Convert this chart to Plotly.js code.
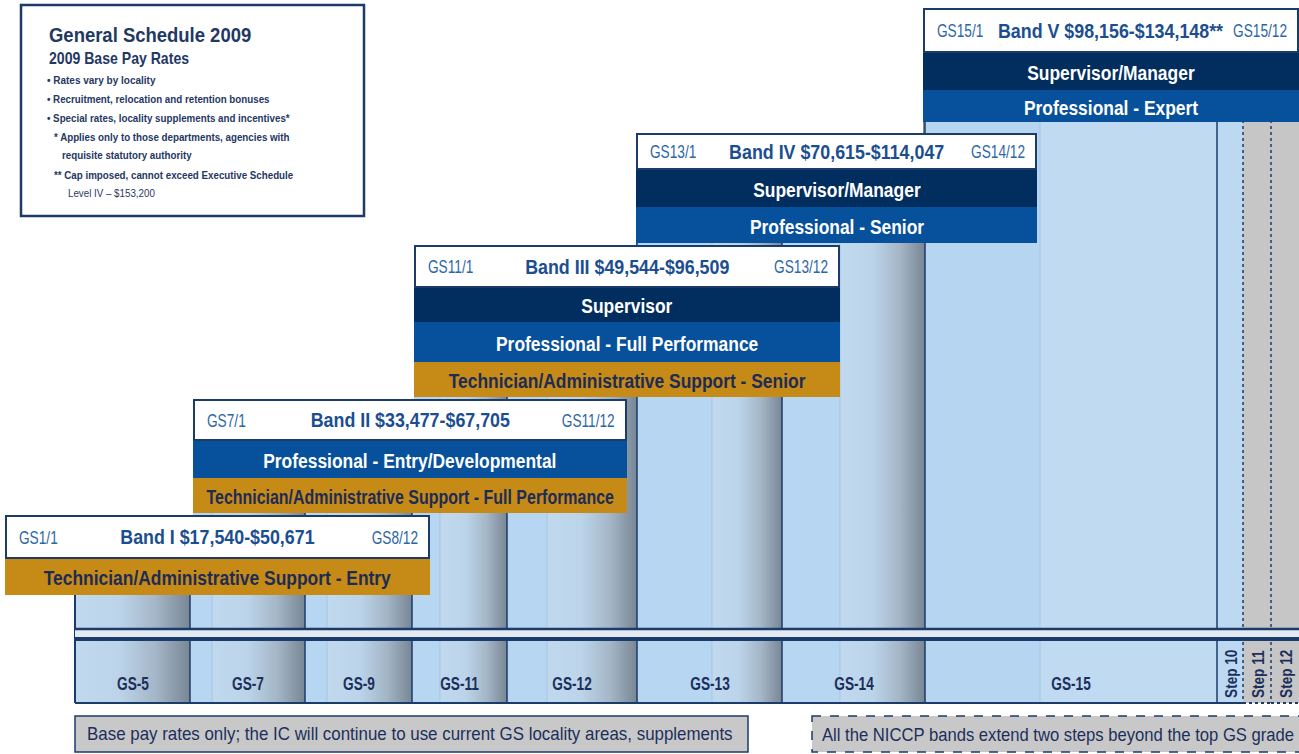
<!DOCTYPE html>
<html><head><meta charset="utf-8">
<script src="https://cdn.plot.ly/plotly-3.0.1.min.js"></script>
<style>html,body{margin:0;padding:0;background:#fff}#chart{width:1299px;height:754px}</style>
</head><body><div id="chart"></div>
<script>
// ---------------- DATA ----------------
const bandNames = ['Band I', 'Band II', 'Band III', 'Band IV', 'Band V'];
const bandMin = ['$17,540', '$33,477', '$49,544', '$70,615', '$98,156'];
const bandMax = ['$50,671', '$67,705', '$96,509', '$114,047', '$134,148**'];
const bandStartGrade = ['GS1/1', 'GS7/1', 'GS11/1', 'GS13/1', 'GS15/1'];
const bandEndGrade = ['GS8/12', 'GS11/12', 'GS13/12', 'GS14/12', 'GS15/12'];
const bandRoles = [
  ['Technician/Administrative Support - Entry'],
  ['Professional - Entry/Developmental', 'Technician/Administrative Support - Full Performance'],
  ['Supervisor', 'Professional - Full Performance', 'Technician/Administrative Support - Senior'],
  ['Supervisor/Manager', 'Professional - Senior'],
  ['Supervisor/Manager', 'Professional - Expert']
];
const bandRoleKinds = [
  ['tech'], ['prof', 'tech'], ['sup', 'prof', 'tech'], ['sup', 'prof'], ['sup', 'prof']
];
const gradeLabels = ['GS-5', 'GS-7', 'GS-9', 'GS-11', 'GS-12', 'GS-13', 'GS-14', 'GS-15', 'Step 10', 'Step 11', 'Step 12'];
const gradeIsExtension = [false, false, false, false, false, false, false, false, false, true, true];
const legendLines = [
  'General Schedule 2009',
  '2009 Base Pay Rates',
  '• Rates vary by locality',
  '• Recruitment, relocation and retention bonuses',
  '• Special rates, locality supplements and incentives*',
  '* Applies only to those departments, agencies with',
  'requisite statutory authority',
  '** Cap imposed, cannot exceed Executive Schedule',
  'Level IV – $153,200'
];
const footLeft = 'Base pay rates only; the IC will continue to use current GS locality areas, supplements';
const footRight = 'All the NICCP bands extend two steps beyond the top GS grade';

// ---------------- GEOMETRY / STYLE ----------------
const FONT = '"Liberation Sans", Arial, sans-serif';
const C = {
  navy: '#012d5f', blue: '#07509b', gold: '#c68a17', border: '#1b3b6b',
  title: '#1b4e90', grade: '#2d66a7', dark: '#1c2f5c', gray: '#c8c8c8'
};
const roleFill = {sup: C.navy, prof: C.blue, tech: C.gold};
const roleText = {sup: '#ffffff', prof: '#ffffff', tech: '#1d2c56'};
const G = {
  bands: [
    {x0: 5,   x1: 430,  y0: 515, head: 43, rows: [37]},
    {x0: 193, x1: 627,  y0: 399, head: 41, rows: [38, 35]},
    {x0: 414, x1: 840,  y0: 245, head: 42, rows: [35, 40, 35]},
    {x0: 636, x1: 1037, y0: 133, head: 36, rows: [38, 36]},
    {x0: 923, x1: 1299, y0: 8,   head: 44, rows: [38, 32]}
  ],
  colEdges: [75, 190, 305, 412, 507, 637, 782, 925, 1217, 1243, 1271, 1299],
  colFlat:  [0, 22, 22, 28, 40, 75, 58, 115, 0, 0, 0],
  colShade: [true, true, true, true, true, true, true, false, false, false, false],
  colTop: 0, sepTop: 628, sepBot: 641, colBottom: 703, labelY: 684,
  legend: {x0: 21, x1: 364, y0: 5, y1: 216},
  // x, y, size, bold, squeeze
  legendPos: [[47, 34, 21, true, 0.88], [47, 58, 16, true, 0.88], [45, 80, 11.5, true, 0.87], [45, 99, 11.5, true, 0.85],
              [45, 118, 11.5, true, 0.85], [52, 137, 11.5, true, 0.85], [60, 155, 11.5, true, 0.85],
              [52, 175, 11.5, true, 0.85], [66, 193, 11.5, false, 0.85]],
  footL: {x0: 75, x1: 748, y0: 716, y1: 752},
  footR: {x0: 812, x1: 1299, y0: 716, y1: 752}
};
const flatColor = '#b7d6f1';
const cylStops = [[0, '#c1d9ee'], [0.38, '#bcd4e9'], [0.7, '#a4b6c7'], [0.9, '#8796a5'], [1, '#788694']];
const plainColors = ['#bfdaf1', '#bcd9f1', '#c6c6c6'];

const traces = [], shapes = [], annotations = [], squeezes = [];
const txt = (x, y, text, size, color, squeeze, opts) => {
  const o = Object.assign({
    x, y, xref: 'x', yref: 'y', text, showarrow: false,
    xanchor: 'center', yanchor: 'middle'
  }, opts || {});
  o.font = Object.assign({family: FONT, size, color}, (opts && opts.font) || {});
  o.align = o.xanchor === 'left' ? 'left' : (o.xanchor === 'right' ? 'right' : 'center');
  annotations.push(o);
  squeezes.push(squeeze);
};
const bold = {weight: 'bold'};

// ---- columns ----
gradeLabels.forEach((lab, i) => {
  const x0 = G.colEdges[i], x1 = G.colEdges[i + 1], w = x1 - x0;
  const f = G.colFlat[i] / w;
  let cs;
  if (G.colShade[i]) {
    if (f > 0) {
      cs = [[0, flatColor], [f, flatColor]];
      cylStops.forEach(s => cs.push([f + 0.001 + s[0] * (1 - f - 0.001), s[1]]));
    } else {
      cs = cylStops.map(s => [s[0], s[1]]);
    }
    cs[cs.length - 1][0] = 1;
  } else if (gradeIsExtension[i]) {
    cs = [[0, plainColors[2]], [1, plainColors[2]]];
  } else if (f > 0) {
    cs = [[0, '#b6d5f1'], [f, '#b6d5f1'], [f + 0.001, plainColors[0]], [1, plainColors[0]]];
  } else {
    cs = [[0, plainColors[1]], [1, plainColors[1]]];
  }
  traces.push({
    type: 'scatter', mode: 'lines', x: [x0, x1, x1, x0, x0],
    y: [G.colTop, G.colTop, G.colBottom, G.colBottom, G.colTop],
    fill: 'toself', fillcolor: cs[0][1], line: {width: 0},
    fillgradient: {type: 'horizontal', colorscale: cs},
    hoverinfo: 'skip', showlegend: false
  });
  if (G.colFlat[i] > 0) {
    shapes.push({type: 'line', xref: 'x', yref: 'y', layer: 'above', x0: x0 + G.colFlat[i], x1: x0 + G.colFlat[i],
      y0: G.colTop, y1: G.colBottom, line: {color: '#a6c5e3', width: 1}});
  }
  const ext = gradeIsExtension[i] || (i > 0 && gradeIsExtension[i - 1]);
  shapes.push({type: 'line', xref: 'x', yref: 'y', layer: 'above', x0: x0, x1: x0, y0: G.colTop, y1: G.colBottom,
    line: {color: C.border, width: i === 0 ? 2 : 1.5, dash: ext ? 'dot' : 'solid'}});
  shapes.push({type: 'line', xref: 'x', yref: 'y', layer: 'above', x0: x0, x1: x1, y0: G.colBottom, y1: G.colBottom,
    line: {color: C.border, width: 2, dash: gradeIsExtension[i] ? 'dot' : 'solid'}});
  if (lab.startsWith('Step')) {
    txt((x0 + x1) / 2 + 1, (G.sepBot + G.colBottom) / 2 + 2, lab, 17, C.dark, 0.8, {textangle: -90, font: bold});
  } else {
    txt((x0 + x1) / 2, G.labelY, lab, 18, C.dark, 0.76, {font: bold});
  }
});
// separator strip
const cx0 = G.colEdges[0], cx1 = G.colEdges[G.colEdges.length - 1];
shapes.push({type: 'rect', xref: 'x', yref: 'y', layer: 'above', x0: cx0, x1: cx1, y0: G.sepTop, y1: G.sepBot,
  fillcolor: '#e4eaf1', line: {width: 0}});
shapes.push({type: 'line', xref: 'x', yref: 'y', layer: 'above', x0: cx0, x1: cx1, y0: G.sepTop + 1, y1: G.sepTop + 1, line: {color: C.border, width: 2.5}});
shapes.push({type: 'line', xref: 'x', yref: 'y', layer: 'above', x0: cx0, x1: cx1, y0: G.sepBot - 2, y1: G.sepBot - 2, line: {color: C.border, width: 4}});

// ---- white staircase above the bands ----
const B = G.bands;
let path = `M -5,-5 L 1305,-5 L 1305,${B[4].y0}`;
for (let i = B.length - 1; i >= 1; i--) {
  path += ` L ${B[i].x0},${B[i].y0} L ${B[i].x0},${B[i - 1].y0}`;
}
path += ` L -5,${B[0].y0} Z`;
shapes.push({type: 'path', xref: 'x', yref: 'y', layer: 'above', path, fillcolor: '#ffffff', line: {width: 0}});

// ---- bands ----
B.forEach((b, i) => {
  const hy1 = b.y0 + b.head;
  let y = hy1;
  b.rows.forEach((h, r) => {
    const kind = bandRoleKinds[i][r];
    shapes.push({type: 'rect', xref: 'x', yref: 'y', layer: 'above', x0: b.x0, x1: b.x1, y0: y, y1: y + h,
      fillcolor: roleFill[kind], line: {width: 0}});
    const longRow = bandRoles[i][r].length > 45;
    txt((b.x0 + b.x1) / 2, y + h / 2 + 1, bandRoles[i][r], 21, roleText[kind], longRow ? 0.76 : 0.83, {font: bold});
    y += h;
  });
  shapes.push({type: 'rect', xref: 'x', yref: 'y', layer: 'above', x0: b.x0 + 1, x1: b.x1 - 1, y0: b.y0 + 1, y1: hy1,
    fillcolor: '#ffffff', line: {color: C.border, width: 2}});
  const cy = b.y0 + b.head / 2 + 1;
  txt(b.x0 + 12, cy, bandStartGrade[i], 18, C.grade, 0.76, {xanchor: 'left'});
  txt(b.x1 - 10, cy, bandEndGrade[i], 18, C.grade, 0.76, {xanchor: 'right'});
  txt((b.x0 + b.x1) / 2, cy - 1, `${bandNames[i]} ${bandMin[i]}-${bandMax[i]}`, 21, C.title, 0.85, {font: bold});
});

// ---- legend box ----
const L = G.legend;
shapes.push({type: 'rect', xref: 'x', yref: 'y', layer: 'above', x0: L.x0, x1: L.x1, y0: L.y0, y1: L.y1,
  fillcolor: '#ffffff', line: {color: C.border, width: 2.5}});
legendLines.forEach((t, i) => {
  const p = G.legendPos[i];
  txt(p[0], p[1], t, p[2], '#1f3864', p[4], {xanchor: 'left', font: {weight: p[3] ? 'bold' : 'normal'}});
});

// ---- footers ----
const FL = G.footL, FR = G.footR;
shapes.push({type: 'rect', xref: 'x', yref: 'y', layer: 'above', x0: FL.x0, x1: FL.x1, y0: FL.y0, y1: FL.y1,
  fillcolor: C.gray, line: {color: C.border, width: 1.5}});
shapes.push({type: 'rect', xref: 'x', yref: 'y', layer: 'above', x0: FR.x0, x1: FR.x1 + 2, y0: FR.y0, y1: FR.y1,
  fillcolor: C.gray, line: {color: C.border, width: 1.5, dash: 'dash'}});
txt(FL.x0 + 10, (FL.y0 + FL.y1) / 2, footLeft, 18, C.dark, 0.94, {xanchor: 'left'});
txt(FR.x0 + 8, (FR.y0 + FR.y1) / 2, footRight, 18.5, C.dark, 0.9, {xanchor: 'left'});

const layout = {
  width: 1299, height: 754, margin: {l: 0, r: 0, t: 0, b: 0},
  paper_bgcolor: '#ffffff', plot_bgcolor: '#ffffff', showlegend: false,
  xaxis: {range: [0, 1299], visible: false, fixedrange: true},
  yaxis: {range: [754, 0], visible: false, fixedrange: true},
  shapes, annotations
};
Plotly.newPlot('chart', traces, layout, {displayModeBar: false, staticPlot: true}).then(() => {
  // condensed-typeface look: scale each text horizontally about its own anchor point
  document.querySelectorAll('#chart g.annotation').forEach(g => {
    const idx = +g.getAttribute('data-index');
    const t = g.querySelector('text.annotation-text');
    const s = squeezes[idx];
    if (!t || !s) return;
    const ax = parseFloat(t.getAttribute('x')) || 0;
    t.setAttribute('transform', `translate(${ax},0) scale(${s},1) translate(${-ax},0)`);
    const r = g.querySelector('rect.bg');
    if (r) {
      const rx = parseFloat(r.getAttribute('x')) || 0, rw = parseFloat(r.getAttribute('width')) || 0;
      const nx = ax + (rx - ax) * s;
      r.setAttribute('x', nx.toFixed(1));
      r.setAttribute('width', (rw * s).toFixed(1));
    }
  });
});
</script></body></html>
